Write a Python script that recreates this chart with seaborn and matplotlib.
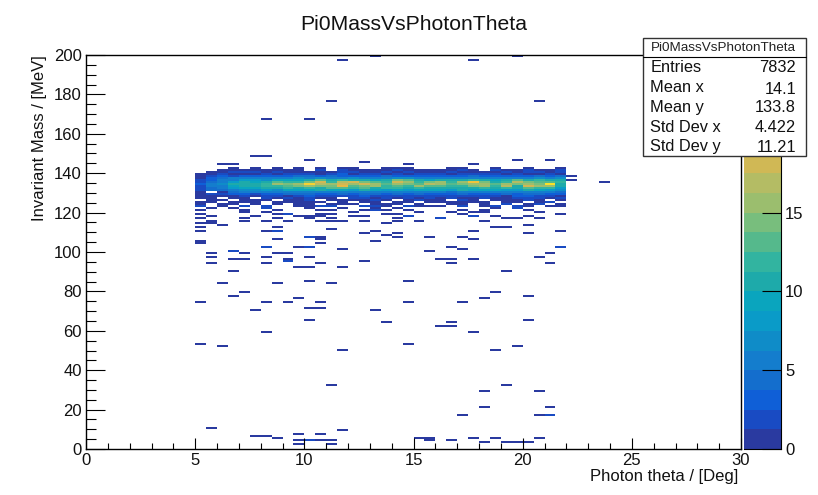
import numpy as np
import pandas as pd
import matplotlib
matplotlib.use("Agg")
import matplotlib.pyplot as plt
import seaborn as sns
from matplotlib.colors import ListedColormap
from matplotlib.lines import Line2D
from matplotlib.patches import Rectangle
from matplotlib.ticker import MultipleLocator

# lower edges of the theta bins in the dense band
band_theta = [5.0, 5.5, 6.0, 6.5, 7.0, 7.5, 8.0, 8.5, 9.0, 9.5, 10.0, 10.5, 11.0, 11.5, 12.0, 12.5, 13.0,
              13.5, 14.0, 14.5, 15.0, 15.5, 16.0, 16.5, 17.0, 17.5, 18.0, 18.5, 19.0, 19.5, 20.0, 20.5, 21.0, 21.5]
band_mass = [142, 141, 140, 139, 138, 137, 136, 135, 134, 133, 132, 131, 130, 129, 128, 127, 126, 125, 124, 123]
band_counts = [
    [0,0,0,1,0,1,0,1,0,1,0,1,0,1,1,0,0,1,1,1,0,0,0,1,1,0,0,1,0,0,1,0,0,1],
    [0,0,1,1,1,1,1,1,1,1,0,2,0,2,1,1,1,1,2,1,1,1,1,1,2,1,0,2,1,1,2,1,1,2],
    [0,1,1,2,2,2,1,2,1,1,1,1,1,2,2,1,1,2,1,2,1,1,1,2,1,1,1,1,2,1,2,2,1,2],
    [1,1,2,1,1,1,2,1,2,2,2,1,2,3,1,2,2,1,2,1,2,2,2,1,2,2,2,2,1,2,1,1,2,1],
    [1,2,3,2,3,3,3,3,3,4,4,3,4,3,3,3,3,4,3,3,3,3,3,3,3,4,3,3,3,3,3,4,3,4],
    [1,3,4,5,6,5,5,6,6,7,6,7,6,6,7,6,5,6,7,7,6,6,5,6,6,6,6,5,6,6,6,7,6,7],
    [2,3,5,6,8,8,7,9,9,9,10,13,10,12,10,11,9,10,14,13,10,9,11,10,11,12,10,9,10,13,11,12,10,10],
    [2,4,6,8,10,9,10,13,12,12,14,18,12,17,18,14,13,12,18,15,12,14,16,12,15,20,14,11,12,17,14,13,13,12],
    [3,5,7,10,11,10,12,15,14,16,22,17,15,18,15,18,16,13,15,14,13,17,15,13,14,16,16,13,15,14,16,14,23,11],
    [2,5,6,9,10,10,12,12,13,14,16,14,14,19,13,14,15,12,13,12,15,13,13,12,12,14,15,12,17,11,18,15,15,10],
    [2,4,6,8,9,9,11,10,12,11,12,11,13,13,12,13,11,12,12,11,12,11,11,11,11,11,12,11,12,10,13,12,12,8],
    [2,4,4,6,7,7,8,7,9,9,9,10,9,9,8,10,9,8,9,8,9,9,9,8,10,9,9,9,8,8,10,9,8,7],
    [1,0,1,4,5,5,5,5,5,6,5,6,6,5,6,6,5,6,5,6,5,5,6,4,5,6,5,5,6,5,6,5,5,4],
    [1,2,2,3,3,2,3,3,4,4,4,3,3,4,3,4,4,3,4,3,4,3,3,3,4,3,3,3,4,3,4,4,3,3],
    [1,1,1,1,2,1,2,2,1,2,3,2,2,2,2,3,2,2,2,2,2,2,2,2,2,2,2,2,1,3,3,2,2,1],
    [1,1,0,1,1,0,2,1,2,1,2,1,1,0,2,2,1,2,1,2,1,2,1,2,1,1,2,1,1,2,1,2,1,2],
    [0,1,1,0,1,1,1,0,1,1,2,0,1,1,1,1,2,1,0,1,2,1,1,0,2,1,0,1,1,1,2,1,0,1],
    [1,1,0,1,1,1,0,1,1,0,1,1,0,1,0,1,1,0,1,1,0,1,1,1,0,1,1,0,1,1,0,1,1,0],
    [1,0,1,1,0,1,0,1,0,1,1,0,1,0,1,0,1,1,1,0,1,0,0,1,1,0,1,0,1,0,1,1,0,1],
    [1,0,1,0,1,0,1,0,0,1,0,1,1,0,0,1,0,1,0,0,1,0,1,0,1,0,0,1,0,1,1,0,0,1],
]

# single entries outside the band, one pair per count
sparse_theta = [
    11.5, 13.0, 17.5, 19.5, 11.0, 20.5, 8.0, 10.0, 7.5, 8.0, 10.0, 12.5, 19.5, 21.0, 6.0, 6.5, 14.5, 17.5,
    22.0, 22.0, 23.5,
    5.0, 5.0, 5.0, 5.0, 5.0, 5.0, 5.0, 5.0, 5.0,
    5.5, 5.5, 5.5, 5.5, 5.5, 5.5, 6.0, 6.5, 6.5, 6.5, 6.5,
    7.0, 7.0, 7.0, 7.0, 7.0, 7.0, 7.0, 7.5,
    8.0, 8.0, 8.0, 8.0, 8.0, 8.0, 8.0, 8.0, 8.0,
    8.5, 8.5, 8.5, 8.5, 8.5, 8.5, 8.5, 8.5,
    9.0, 9.0, 9.0, 9.0, 9.0, 9.0, 9.5, 9.5, 9.5,
    10.0, 10.0, 10.0, 10.0, 10.0, 10.0, 10.0, 10.0, 10.0, 10.0,
    10.5, 10.5, 10.5, 10.5, 10.5, 10.5, 10.5, 10.5,
    11.0, 11.0, 11.0, 11.0, 11.0, 11.0, 11.5, 11.5, 11.5, 11.5,
    12.0, 12.0, 12.5, 12.5, 12.5, 12.5, 12.5,
    13.0, 13.0, 13.0, 13.0, 13.0, 13.0, 13.0, 13.5, 13.5, 13.5, 13.5,
    14.0, 14.0, 14.0, 14.0, 14.0, 14.0,
    14.5, 14.5, 14.5, 14.5, 14.5, 15.0, 15.0, 15.5, 15.5, 15.5, 16.0, 16.0, 16.0, 16.5, 16.5, 16.5,
    17.0, 17.0, 17.0, 17.0, 17.0, 17.0, 17.5, 17.5, 17.5, 17.5, 17.5, 17.5,
    18.0, 18.0, 18.0, 18.0, 18.5, 18.5, 18.5, 18.5, 19.0, 19.0, 19.0,
    19.5, 19.5, 19.5, 19.5, 20.0, 20.0, 20.0, 20.0, 20.0,
    20.5, 20.5, 20.5, 20.5, 21.0, 21.0, 21.0, 21.5, 21.5, 21.5, 21.5,
    5.5, 8.0, 9.0, 10.5, 12.5, 16.5, 9.5, 11.5, 6.5, 19.0, 21.0, 10.0, 14.5, 6.0, 8.5, 11.0, 7.0, 18.5,
    6.5, 20.0, 9.5, 18.0, 10.5, 17.0, 5.0, 8.0, 9.0, 14.5, 10.0, 10.5, 7.5, 13.0, 10.0, 20.0, 13.5, 16.5,
    16.0, 16.5, 8.0, 17.5, 5.0, 14.5, 6.0, 19.5, 11.5, 18.5,
    11.0, 5.5, 7.5, 8.0, 8.5, 9.5, 10.5, 11.5, 9.5, 9.5, 10.0, 10.0, 10.5, 11.0, 11.0,
    18.0, 19.0, 20.5, 18.0, 21.0, 17.0, 20.5, 21.0, 21.0,
    15.0, 15.5, 15.5, 16.5, 17.5, 18.0, 18.5, 19.0, 19.5, 20.0, 20.5,
]
sparse_mass = [
    197, 199, 197, 199, 176, 176, 167, 167, 148, 148, 146, 145, 146, 146, 144, 144, 144, 144,
    138, 136, 135,
    123, 121, 119, 117, 114, 112, 110, 105, 104,
    122, 118, 115, 114, 97, 99, 113, 122, 100, 100, 96,
    123, 121, 120, 117, 115, 99, 96, 118,
    122, 122, 115, 110, 102, 102, 97, 123, 120,
    121, 119, 117, 112, 110, 110, 106, 99,
    119, 119, 115, 99, 96, 95, 125, 118, 102,
    123, 122, 118, 117, 107, 107, 102, 102, 97, 92,
    121, 119, 118, 115, 107, 106, 104, 123,
    123, 121, 119, 117, 115, 111, 124, 122, 115, 101,
    120, 118, 123, 121, 118, 115, 109,
    123, 122, 121, 121, 110, 105, 123, 121, 119, 114, 108,
    122, 119, 117, 115, 109, 107,
    123, 123, 121, 118, 118, 120, 115, 123, 107, 100, 117, 117, 96, 102, 96, 120,
    125, 123, 121, 119, 107, 101, 120, 118, 118, 110, 106, 96,
    123, 121, 120, 115, 122, 118, 112, 123, 124, 117, 112,
    123, 122, 122, 117, 127, 121, 118, 113, 109,
    124, 120, 117, 97, 125, 123, 99, 119, 110, 102, 102,
    94, 94, 95, 94, 95, 94, 92, 92, 90, 90, 94, 85, 85, 84, 84, 84, 79, 79,
    77, 77, 76, 76, 74, 74, 74, 74, 74, 74, 71, 71, 70, 70, 65, 65, 64, 64,
    62, 62, 59, 59, 53, 53, 52, 52, 50, 50,
    32, 10, 6, 6, 5, 7, 7, 9, 4, 2, 4, 4, 4, 4, 2,
    29, 32, 29, 21, 21, 17, 17, 17, 17,
    5, 5, 4, 4, 5, 3, 5, 3, 3, 3, 5,
]

colorbar_ticks = [0, 5, 10, 15]
palette_colors = [
    "#2a3aa0", "#194bc3", "#0f5fd7", "#146ecd", "#147dcd", "#0f8cc8", "#0a9bc8", "#0aa5be", "#1eaaaa", "#32b4a0",
    "#55b98c", "#78be7d", "#9bbe6e", "#b4bc64", "#d0b855", "#e6b946", "#f0c43c", "#f5d232", "#f9e128", "#f9f01e",
]
stats_names = ["Entries", "Mean x", "Mean y", "Std Dev x", "Std Dev y"]
stats_values = ["7832", "14.1", "133.8", "4.422", "11.21"]

W, H = 818, 495


def fx(px):
    return px / W


def fy(py):
    return 1 - py / H


band = pd.DataFrame(band_counts, index=band_mass, columns=band_theta)
band = band.stack().reset_index()
band.columns = ["mass", "theta", "count"]
sparse = pd.DataFrame({"theta": sparse_theta, "mass": sparse_mass, "count": 1})
hist = pd.concat([band, sparse], ignore_index=True)
# put every entry in the middle of its bin
hist["theta"] = hist["theta"] + 0.25
hist["mass"] = hist["mass"] + 0.5

sns.set_style("white")
plt.rcParams["font.family"] = ["Liberation Sans", "DejaVu Sans"]

fig = plt.figure(figsize=(W / 100, H / 100), dpi=100)
ax = fig.add_axes([fx(86), fy(449), (741 - 86) / W, (449 - 55) / H])
cax = fig.add_axes([fx(744), fy(449), (781 - 744) / W, (449 - 55) / H])

sns.histplot(data=hist, x="theta", y="mass", weights="count", bins=(60, 200), binrange=((0, 30), (0, 200)),
             cmap=ListedColormap(palette_colors), vmin=0, vmax=25, thresh=0, cbar=True, cbar_ax=cax, ax=ax)

ax.set_xlim(0, 30)
ax.set_ylim(0, 200)
ax.set_axisbelow(False)
ax.xaxis.set_major_locator(MultipleLocator(5))
ax.xaxis.set_minor_locator(MultipleLocator(1))
ax.yaxis.set_major_locator(MultipleLocator(20))
ax.yaxis.set_minor_locator(MultipleLocator(5))
ax.tick_params(axis="x", which="major", direction="in", length=8, width=0.8, color="black",
               bottom=True, labelsize=12, pad=3, labelcolor="#111111")
ax.tick_params(axis="x", which="minor", direction="in", length=4, width=0.8, color="black", bottom=True)
ax.tick_params(axis="y", which="major", direction="in", length=14, width=0.8, color="black",
               left=True, labelsize=12, pad=3, labelcolor="#111111")
ax.tick_params(axis="y", which="minor", direction="in", length=7, width=0.8, color="black", left=True)
for spine in ax.spines.values():
    spine.set_visible(True)
    spine.set_color("black")
    spine.set_linewidth(1.0)
ax.set_xlabel("")
ax.set_ylabel("")

cbar = ax.collections[0].colorbar
cbar.outline.set_visible(False)
cbar.set_ticks(colorbar_ticks)
cax.minorticks_off()
cax.set_axisbelow(False)
cax.tick_params(axis="y", direction="in", length=14, width=0.8, color="black", right=True,
                labelsize=12, pad=3, labelcolor="#111111")
for side in ["right", "bottom"]:
    cax.spines[side].set_visible(True)
    cax.spines[side].set_color("black")
    cax.spines[side].set_linewidth(0.8)

fig.text(fx(414), fy(24), "Pi0MassVsPhotonTheta", ha="center", va="center", fontsize=15.2, color="#111111")
fig.text(fx(738), fy(476), "Photon theta / [Deg]", ha="right", va="center", fontsize=12, color="#111111")
fig.text(fx(40), fy(55), "Invariant Mass / [MeV]", ha="center", va="top", rotation=90, fontsize=12, color="#111111")

# stats box sits on top of the frame and the colour bar
fig.add_artist(Rectangle((fx(642.5), fy(155.5)), (806 - 642.5) / W, (155.5 - 37.5) / H, transform=fig.transFigure,
                         facecolor="white", edgecolor="#333333", linewidth=1.0, zorder=5))
fig.add_artist(Line2D([fx(642.5), fx(806)], [fy(57), fy(57)], color="black", linewidth=0.8, zorder=6))
fig.text(fx(723.5), fy(48), "Pi0MassVsPhotonTheta", ha="center", va="center", fontsize=9.7, color="#222222", zorder=7)
name_y = [68, 88, 107, 128, 147]
value_y = [68, 89, 108, 128, 148]
for name, value, ny, vy in zip(stats_names, stats_values, name_y, value_y):
    fig.text(fx(650.5), fy(ny), name, ha="left", va="center", fontsize=11.8, color="#111111", zorder=7)
    fig.text(fx(796), fy(vy), value, ha="right", va="center", fontsize=11.8, color="#111111", zorder=7)

fig.savefig("out.png", dpi=100, facecolor="white")
